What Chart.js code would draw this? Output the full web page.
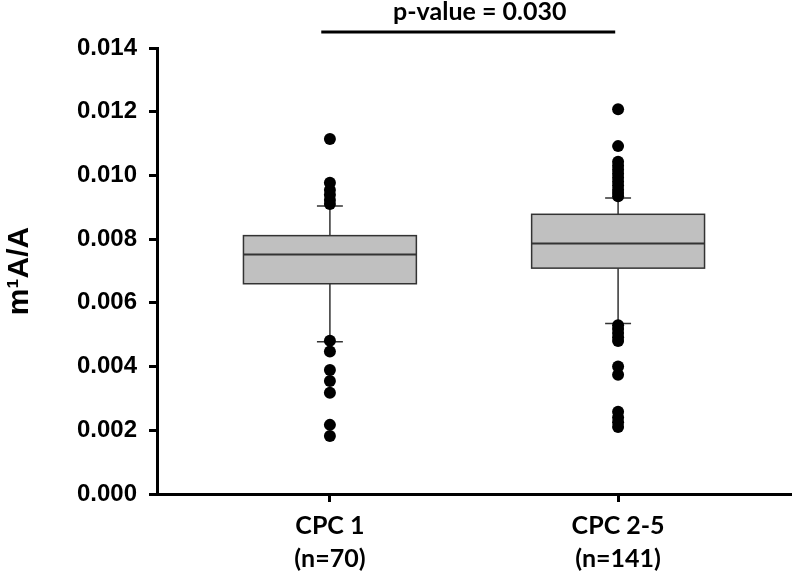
<!DOCTYPE html>
<html>
<head>
<meta charset="utf-8">
<title>m1A/A box plot</title>
<script src="https://cdn.jsdelivr.net/npm/chart.js@4/dist/chart.umd.min.js"></script>
<style>
	body { margin: 0; background: #fff; }
	#wrap { width: 797px; height: 573px; position: relative; }
</style>
</head>
<body>
<div id="wrap"><canvas id="boxChart"></canvas></div>
<script>
// categories (x position 1 and 2)
var categories = [['CPC 1', '(n=70)'], ['CPC 2-5', '(n=141)']];
var categoryPos = [1, 2];

// box statistics
var lowerWhisker = [0.00478, 0.00535];
var q1 = [0.00660, 0.00709];
var median = [0.00752, 0.00786];
var q3 = [0.00811, 0.00878];
var upperWhisker = [0.00904, 0.00929];

// outliers
var outliersCpc1 = [0.01114, 0.00977, 0.00954, 0.00939, 0.00923, 0.00910,
	0.00481, 0.00447, 0.00389, 0.00355, 0.00318, 0.00217, 0.00182];
var outliersCpc25 = [0.01208, 0.01092, 0.01043, 0.01030, 0.01018, 0.01005, 0.00993,
	0.00980, 0.00968, 0.00955, 0.00945, 0.00935,
	0.00530, 0.00518, 0.00505, 0.00492, 0.00480,
	0.00400, 0.00374, 0.00258, 0.00240, 0.00225, 0.00210];

// y ticks
var yTicks = [0, 0.002, 0.004, 0.006, 0.008, 0.010, 0.012, 0.014];

var pValueText = 'p-value = 0.030';

function toPoints(pos, values) {
	return values.map(function (v) { return { x: pos, y: v }; });
}

//----------------------
//- BOX + WHISKER DRAW -
//----------------------
var boxPlugin = {
	id: 'boxPlugin',
	beforeDatasetsDraw: function (chart) {
		var ctx = chart.ctx;
		var xs = chart.scales.x;
		var ys = chart.scales.y;
		ctx.save();
		for (var i = 0; i < categoryPos.length; i++) {
			var c = xs.getPixelForValue(categoryPos[i]);
			var l = xs.getPixelForValue(categoryPos[i] - 0.3);
			var r = xs.getPixelForValue(categoryPos[i] + 0.3);
			var capL = xs.getPixelForValue(categoryPos[i] - 0.045);
			var capR = xs.getPixelForValue(categoryPos[i] + 0.045);
			var yLo = ys.getPixelForValue(lowerWhisker[i]);
			var yQ1 = ys.getPixelForValue(q1[i]);
			var yMed = ys.getPixelForValue(median[i]);
			var yQ3 = ys.getPixelForValue(q3[i]);
			var yHi = ys.getPixelForValue(upperWhisker[i]);

			ctx.strokeStyle = '#333';
			ctx.lineWidth = 1.5;
			// whiskers
			ctx.beginPath();
			ctx.moveTo(c, yQ1); ctx.lineTo(c, yLo);
			ctx.moveTo(c, yQ3); ctx.lineTo(c, yHi);
			ctx.moveTo(capL, yLo); ctx.lineTo(capR, yLo);
			ctx.moveTo(capL, yHi); ctx.lineTo(capR, yHi);
			ctx.stroke();

			// box
			ctx.fillStyle = '#c0c0c0';
			ctx.fillRect(l, yQ3, r - l, yQ1 - yQ3);
			ctx.strokeRect(l, yQ3, r - l, yQ1 - yQ3);

			// median
			ctx.lineWidth = 2;
			ctx.beginPath();
			ctx.moveTo(l, yMed); ctx.lineTo(r, yMed);
			ctx.stroke();
		}
		ctx.restore();
	},
	afterDraw: function (chart) {
		// p-value bracket
		var ctx = chart.ctx;
		var xs = chart.scales.x;
		ctx.save();
		var x1 = xs.getPixelForValue(0.97);
		var x2 = xs.getPixelForValue(1.99);
		ctx.strokeStyle = '#000';
		ctx.lineWidth = 3;
		ctx.beginPath();
		ctx.moveTo(x1, 32); ctx.lineTo(x2, 32);
		ctx.stroke();
		ctx.fillStyle = '#000';
		ctx.font = 'bold 25px Lato';
		ctx.textAlign = 'center';
		ctx.textBaseline = 'alphabetic';
		ctx.fillText(pValueText, xs.getPixelForValue(1.52), 20);
		ctx.restore();
	}
};

var ctx = document.getElementById('boxChart').getContext('2d');
var boxChart = new Chart(ctx, {
	type: 'scatter',
	data: {
		datasets: [
			{ label: 'CPC 1', data: toPoints(categoryPos[0], outliersCpc1) },
			{ label: 'CPC 2-5', data: toPoints(categoryPos[1], outliersCpc25) }
		]
	},
	options: {
		responsive: true,
		maintainAspectRatio: false,
		animation: false,
		layout: { padding: { top: 48, right: 2, left: 0, bottom: 0 } },
		elements: {
			point: { radius: 6, backgroundColor: '#000', borderColor: '#000', borderWidth: 0 }
		},
		plugins: {
			legend: { display: false },
			tooltip: { enabled: false }
		},
		scales: {
			x: {
				type: 'linear',
				min: 0.4,
				max: 2.6,
				afterBuildTicks: function (axis) {
					axis.ticks = categoryPos.map(function (v) { return { value: v }; });
				},
				afterFit: function (scale) { scale.height = 79; },
				border: { display: true, color: '#000', width: 3 },
				grid: { drawOnChartArea: false, drawTicks: true, tickLength: 8, tickWidth: 3, tickColor: '#000' },
				ticks: {
					padding: 8,
					color: '#000',
					maxRotation: 0,
					font: { family: 'Lato', weight: 'bold', size: 25, lineHeight: 1.3 },
					callback: function (value) {
						var idx = categoryPos.indexOf(value);
						return idx >= 0 ? categories[idx] : '';
					}
				}
			},
			y: {
				min: 0,
				max: 0.014,
				afterBuildTicks: function (axis) {
					axis.ticks = yTicks.map(function (v) { return { value: v }; });
				},
				afterFit: function (scale) { scale.width = 157; },
				border: { display: true, color: '#000', width: 3 },
				grid: { drawOnChartArea: false, drawTicks: true, tickLength: 8, tickWidth: 3, tickColor: '#000' },
				ticks: {
					padding: 12,
					color: '#000',
					font: { family: 'Liberation Sans', weight: 'bold', size: 24 },
					callback: function (value) { return value.toFixed(3); }
				},
				title: {
					display: true,
					text: 'm\u00B9A/A',
					color: '#000',
					padding: { top: 2, bottom: 0 },
					font: { family: 'Liberation Sans', weight: 'bold', size: 30 }
				}
			}
		}
	},
	plugins: [boxPlugin]
});
</script>
</body>
</html>
